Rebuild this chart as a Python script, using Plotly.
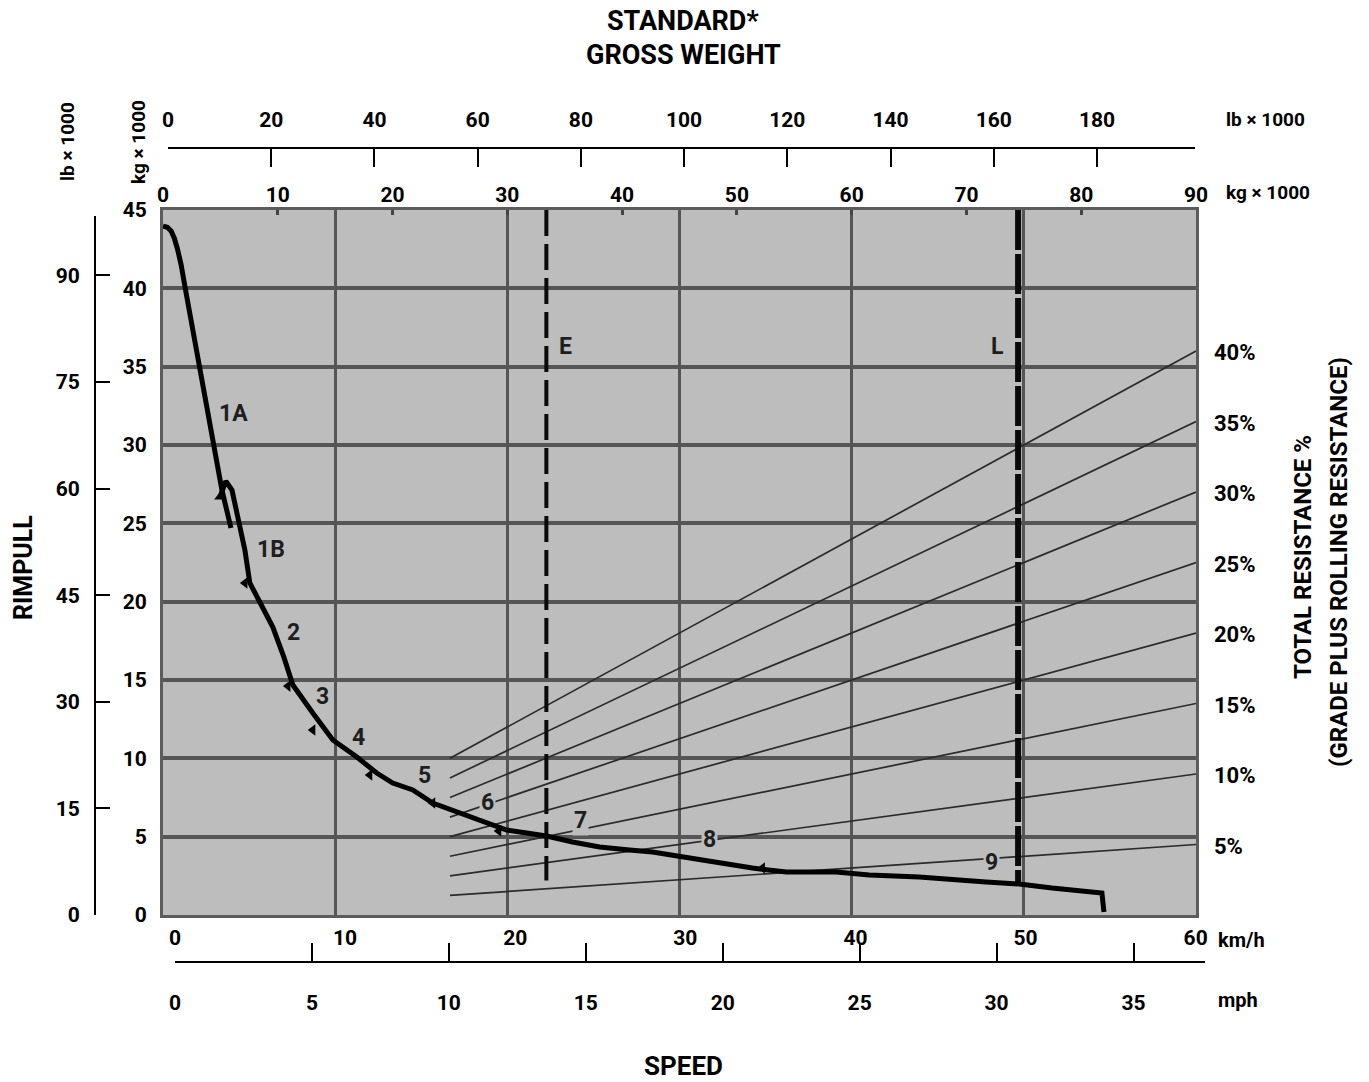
import plotly.graph_objects as go

W, H = 1369, 1082

# ---------------- data ----------------
# Gear 1A rimpull curve (speed km/h, rimpull kg x 1000)
gear1a_kmh = [-0.70, -0.45, -0.22, -0.04, 0.15, 0.36, 0.62, 1.47, 2.29, 2.76, 3.29]
gear1a_kg = [43.97, 43.90, 43.65, 43.20, 42.50, 41.50, 39.90, 34.97, 29.93, 27.12, 24.70]

# Gear 1B ... 9 rimpull curve
main_kmh = [2.64, 2.99, 3.35, 3.70, 4.11, 4.40, 4.99, 5.75, 6.40, 6.93, 8.10, 9.28,
            10.69, 11.86, 12.80, 13.98, 15.15, 16.74, 18.32, 19.50, 20.67, 21.84,
            23.37, 24.96, 26.72, 28.07, 31.00, 33.94, 35.94, 38.87, 40.81, 43.75,
            47.68, 49.62, 51.56, 54.49, 54.61]
main_kg = [26.68, 27.70, 27.12, 25.40, 23.29, 21.19, 19.97, 18.38, 16.46, 14.68, 12.89, 11.17,
           10.08, 9.06, 8.42, 7.98, 7.15, 6.51, 5.87, 5.42, 5.23, 5.04,
           4.66, 4.34, 4.15, 4.02, 3.51, 3.00, 2.74, 2.74, 2.55, 2.43,
           2.11, 1.98, 1.72, 1.40, 0.19]

# gear shift arrow points
shift_kmh = [4.11, 6.64, 8.10, 11.45, 15.15, 19.03, 34.53]
shift_kg = [21.19, 14.61, 11.81, 8.93, 7.15, 5.36, 3.00]

gear_names = ["1A", "1B", "2", "3", "4", "5", "6", "7", "8", "9"]
gear_label_kmh = [3.46, 5.64, 6.99, 8.69, 10.81, 14.68, 18.38, 23.84, 31.42, 47.97]
gear_label_kg = [32.04, 23.35, 18.06, 13.97, 11.36, 8.93, 7.21, 6.06, 4.79, 3.38]

# total resistance lines (percent), drawn against gross weight (kg x 1000)
resistance_pct = [5, 10, 15, 20, 25, 30, 35, 40]
resistance_gw = [25, 90]

# empty / loaded gross weight markers
weight_names = ["E", "L"]
weight_gw = [33.4, 74.5]
weight_bottom_kg = [2.2, 2.0]

# axis ticks
kmh_ticks = [0, 10, 20, 30, 40, 50, 60]
mph_ticks = [0, 5, 10, 15, 20, 25, 30, 35]
gw_kg_ticks = [0, 10, 20, 30, 40, 50, 60, 70, 80, 90]
gw_lb_ticks = [0, 20, 40, 60, 80, 100, 120, 140, 160, 180]
rim_kg_ticks = [0, 5, 10, 15, 20, 25, 30, 35, 40, 45]
rim_lb_ticks = [0, 15, 30, 45, 60, 75, 90]

KG_TO_LB = 2.20462
KMH_PER_MPH = 1.609344

# ---------------- geometry helpers (pixels -> paper) ----------------
def fx(px):
    return px / W

def fy(py):
    return 1 - py / H

PL, PR, PT, PB = 163, 1196, 210, 915
KMH0 = 175.0
PX_PER_KMH = (PR - KMH0) / 60.0
kmh_range = [(PL - KMH0) / PX_PER_KMH, 60.02]
PX_PER_MPH = PX_PER_KMH * KMH_PER_MPH
PX_PER_KG_RIM = (PB - PT) / 45.0

FONT = "Roboto, Liberation Sans, Arial, sans-serif"
BG = "#bdbdbd"
GRID = "#555555"

fig = go.Figure()

# resistance lines
for p in resistance_pct:
    fig.add_trace(go.Scatter(
        x=resistance_gw, y=[g * p / 100 for g in resistance_gw],
        xaxis="x", yaxis="y", mode="lines",
        line=dict(color="#2b2b2b", width=1.7), hoverinfo="skip"))

# E / L dashed lines
for name, g, b, w, d in zip(weight_names, weight_gw, weight_bottom_kg, [4, 6], ["26px,8px", "40px,4px"]):
    fig.add_trace(go.Scatter(
        x=[g, g], y=[45, b], xaxis="x", yaxis="y", mode="lines",
        line=dict(color="#0a0a0a", width=w, dash=d), hoverinfo="skip"))

# rimpull curves (km/h axis)
fig.add_trace(go.Scatter(x=gear1a_kmh, y=gear1a_kg, xaxis="x3", yaxis="y", mode="lines",
                         line=dict(color="black", width=5), hoverinfo="skip"))
fig.add_trace(go.Scatter(x=main_kmh, y=main_kg, xaxis="x3", yaxis="y", mode="lines",
                         line=dict(color="black", width=5), hoverinfo="skip"))
fig.add_trace(go.Scatter(x=shift_kmh, y=shift_kg, xaxis="x3", yaxis="y", mode="markers",
                         marker=dict(symbol="triangle-left", size=10, color="black"),
                         hoverinfo="skip"))
fig.add_trace(go.Scatter(x=[main_kmh[0]], y=[main_kg[0]], xaxis="x3", yaxis="y", mode="markers",
                         marker=dict(symbol="triangle-up", size=10, color="black"),
                         hoverinfo="skip"))

# dummy traces to register the extra axes
for xa, ya in [("x2", "y"), ("x4", "y3"), ("x5", "y3")]:
    fig.add_trace(go.Scatter(x=[0], y=[0], xaxis=xa, yaxis=ya, mode="markers",
                             marker=dict(opacity=0), hoverinfo="skip"))

tickfont = dict(family=FONT, size=21, color="black", weight="bold")

fig.update_layout(
    width=W, height=H, margin=dict(l=0, r=0, t=0, b=0, autoexpand=False),
    paper_bgcolor="white", plot_bgcolor="rgba(0,0,0,0)", showlegend=False,
    font=dict(family=FONT, color="black", size=21, weight="bold"),
    xaxis=dict(domain=[fx(PL), fx(PR)], range=[0, 90], tickmode="linear", tick0=0, dtick=15,
               showgrid=True, gridcolor=GRID, gridwidth=2.5, showticklabels=False, ticks="",
               showline=True, mirror=True, linecolor="#5c5c5c", linewidth=3, zeroline=False,
               anchor="y", fixedrange=True, automargin=False),
    yaxis=dict(domain=[fy(PB), fy(PT)], range=[0, 45], tickmode="array", tickvals=rim_kg_ticks,
               showgrid=True, gridcolor=GRID, gridwidth=3.5, showline=True, mirror=True,
               linecolor="#5c5c5c", linewidth=3, ticks="", zeroline=False, tickfont=tickfont,
               ticklabelstandoff=9, anchor="x", fixedrange=True, automargin=False),
    xaxis2=dict(overlaying="x", side="top", anchor="y", range=[0, 90], tickmode="array",
                tickvals=gw_kg_ticks, showgrid=False, zeroline=False, ticks="inside", ticklen=5,
                tickwidth=3, tickcolor="#444", tickfont=tickfont, ticklabelstandoff=3,
                fixedrange=True, automargin=False),
    xaxis3=dict(overlaying="x", side="bottom", anchor="y", range=kmh_range, tickmode="array",
                tickvals=kmh_ticks, showgrid=False, zeroline=False, ticks="", tickfont=tickfont,
                ticklabelstandoff=8, fixedrange=True, automargin=False),
    xaxis4=dict(anchor="free", position=fy(962), side="bottom",
                domain=[fx(KMH0), fx(1205)], range=[0, (1205 - KMH0) / PX_PER_MPH],
                tickmode="array", tickvals=mph_ticks, showgrid=False, zeroline=False,
                ticks="inside", ticklen=18, tickwidth=2, tickcolor="black",
                showline=True, linecolor="black", linewidth=2, tickfont=tickfont,
                ticklabelstandoff=22, fixedrange=True, automargin=False),
    xaxis5=dict(anchor="free", position=fy(148), side="top",
                domain=[fx(168), fx(1195)], range=[0, (1195 - 168) / 5.161],
                tickmode="array", tickvals=gw_lb_ticks, showgrid=False, zeroline=False,
                ticks="inside", ticklen=18, tickwidth=2, tickcolor="black",
                showline=True, linecolor="black", linewidth=2, tickfont=tickfont,
                ticklabelstandoff=12, fixedrange=True, automargin=False),
    yaxis3=dict(anchor="free", position=fx(95), side="left",
                domain=[fy(PB), fy(216)],
                range=[0, (PB - 216) / (PX_PER_KG_RIM / KG_TO_LB)],
                tickmode="array", tickvals=rim_lb_ticks, showgrid=False, zeroline=False,
                ticks="inside", ticklen=14, tickwidth=2, tickcolor="black",
                showline=True, linecolor="black", linewidth=2, tickfont=tickfont,
                ticklabelstandoff=10, fixedrange=True, automargin=False),
)

# gray plot background
fig.add_shape(type="rect", xref="x domain", yref="y domain", x0=0, x1=1, y0=0, y1=1,
              fillcolor=BG, line=dict(width=0), layer="below")

ann = []

def text(x, y, s, size=21, angle=0, xanchor="center", yanchor="middle"):
    ann.append(dict(x=fx(x), y=fy(y), xref="paper", yref="paper", text=s, showarrow=False,
                    textangle=angle, xanchor=xanchor, yanchor=yanchor,
                    font=dict(family=FONT, size=size, color="black", weight="bold")))

text(683, 21, "STANDARD*", size=27)
text(683, 55, "GROSS WEIGHT", size=27)
text(67, 142, "lb × 1000", size=19, angle=-90)
text(138, 142, "kg × 1000", size=19, angle=-90)
text(1224, 120, "lb × 1000", size=19, xanchor="left")
text(1224, 192, "kg × 1000", size=19, xanchor="left")
text(1216, 940, "km/h", size=20, xanchor="left")
text(1216, 1000, "mph", size=20, xanchor="left")
text(23, 568, "RIMPULL", size=25, angle=-90)
text(683, 1066, "SPEED", size=26)
text(1303, 557, "TOTAL RESISTANCE %", size=24, angle=-90)
text(1339, 562, "(GRADE PLUS ROLLING RESISTANCE)", size=24, angle=-90)

# percent labels next to the resistance lines
for p in resistance_pct:
    ann.append(dict(x=fx(1212), xref="paper", y=p / 100 * resistance_gw[1] - 0.1, yref="y",
                    text=f"{p}%", showarrow=False, xanchor="left", yanchor="middle",
                    font=dict(family=FONT, size=22, color="black", weight="bold")))

# gear labels
for name, xk, yk in zip(gear_names, gear_label_kmh, gear_label_kg):
    ann.append(dict(x=xk, y=yk, xref="x3", yref="y", text=name, showarrow=False,
                    bgcolor=BG if name in ("6", "7", "8", "9") else None, borderpad=1,
                    font=dict(family=FONT, size=23, color="#1e1e1e", weight="bold")))

# E / L labels
for name, g, off in zip(weight_names, weight_gw, [1.7, -1.8]):
    ann.append(dict(x=g + off, y=36.3, xref="x", yref="y", text=name, showarrow=False,
                    font=dict(family=FONT, size=23, color="#1e1e1e", weight="bold")))

fig.update_layout(annotations=ann)

fig.write_html("out.html", config={"displayModeBar": False},
               post_script="document.body.style.margin='0px';document.body.style.padding='0px';")
